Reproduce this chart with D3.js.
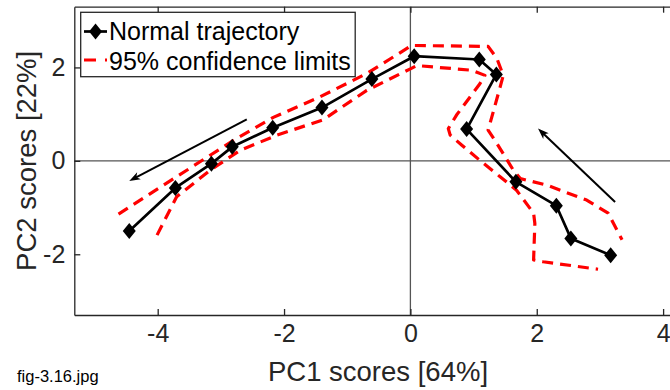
<!DOCTYPE html>
<html>
<head>
<meta charset="utf-8">
<script src="https://cdn.jsdelivr.net/npm/d3@7"></script>
<style>
  html, body { margin: 0; padding: 0; background: #fff; }
  svg { display: block; }
  text { font-family: "Liberation Sans", Arial, Helvetica, sans-serif; }
</style>
</head>
<body>
<svg id="chart" width="670" height="390"></svg>
<script>
// ---- data ----
const pc1 = [-4.45, -3.72, -3.15, -2.82, -2.18, -1.40, -0.61, 0.06, 1.09, 1.36, 0.89, 1.67, 2.31, 2.54, 3.17];
const pc2 = [-1.50, -0.58, -0.06, 0.30, 0.71, 1.14, 1.75, 2.24, 2.17, 1.85, 0.68, -0.45, -0.96, -1.66, -2.02];

const upperX = [-4.62, -3.70, -2.80, -2.17, -1.43, -0.69, 0.02, 1.23, 1.37, 1.47, 1.42, 1.26, 1.23, 1.37, 1.63, 1.74, 2.16, 2.79, 3.13, 3.35];
const upperY = [-1.14, -0.34, 0.44, 0.93, 1.37, 1.87, 2.47, 2.45, 2.19, 1.83, 1.58, 0.80, 0.66, 0.37, -0.20, -0.38, -0.52, -0.84, -1.12, -1.69];

const lowerX = [-4.01, -3.70, -3.17, -2.69, -2.11, -1.38, -0.69, 0.00, 0.10, 0.97, 1.18, 1.10, 0.73, 0.60, 0.63, 0.81, 1.10, 1.42, 1.68, 1.95, 1.97, 1.95, 2.10, 2.97];
const lowerY = [-1.59, -0.77, -0.20, 0.23, 0.55, 0.88, 1.51, 1.97, 2.04, 1.94, 1.83, 1.65, 0.98, 0.69, 0.55, 0.34, 0.01, -0.34, -0.63, -1.12, -1.34, -2.12, -2.16, -2.32];

// arrows: tail -> head (data units)
const arrowStartX = [-2.59, 3.24];
const arrowStartY = [0.89, -0.88];
const arrowEndX = [-4.45, 2.02];
const arrowEndY = [-0.43, 0.69];

const xTicks = [-4, -2, 0, 2, 4];
const yTicks = [-2, 0, 2];
const xDomain = [-5.32, 5.32];
const yDomain = [-3.3, 3.3];

const xLabel = "PC1 scores [64%]";
const yLabel = "PC2 scores [22%]";
const legendLabels = ["Normal trajectory", "95% confidence limits"];
const caption = "fig-3.16.jpg";

// ---- layout ----
const svg = d3.select("#chart");
const mLeft = 74.3, mTop = 6.7, mBottom = 315, mRight = 746.5;
const axisColor = "#262626";

const x = d3.scaleLinear().domain(xDomain).range([mLeft, mRight]);
const y = d3.scaleLinear().domain(yDomain).range([mBottom, mTop]);

svg.append("defs").append("clipPath").attr("id", "clip")
  .append("rect").attr("x", mLeft).attr("y", mTop).attr("width", mRight - mLeft).attr("height", mBottom - mTop);

// crosshair lines
const cross = svg.append("g").attr("clip-path", "url(#clip)");
cross.append("line").attr("x1", x(0)).attr("x2", x(0)).attr("y1", mTop).attr("y2", mBottom)
  .attr("stroke", "#555").attr("stroke-width", 1.3);
cross.append("line").attr("x1", mLeft).attr("x2", mRight).attr("y1", y(0)).attr("y2", y(0))
  .attr("stroke", "#555").attr("stroke-width", 1.3);

// axes
const fontTick = 25;
const fmt = d => String(d);
const gx = svg.append("g").attr("transform", `translate(0,${mBottom})`)
  .call(d3.axisBottom(x).tickValues(xTicks).tickSizeInner(-6).tickSizeOuter(0).tickPadding(9).tickFormat(fmt));
const gxTop = svg.append("g").attr("transform", `translate(0,${mTop})`)
  .call(d3.axisTop(x).tickValues(xTicks).tickSizeInner(-6).tickSizeOuter(0).tickFormat(""));
const gy = svg.append("g").attr("transform", `translate(${mLeft},0)`)
  .call(d3.axisLeft(y).tickValues(yTicks).tickSizeInner(-6).tickSizeOuter(0).tickPadding(9).tickFormat(fmt));

[gx, gxTop, gy].forEach(g => {
  g.select(".domain").attr("stroke", axisColor).attr("stroke-width", 1.3);
  g.selectAll(".tick line").attr("stroke", axisColor).attr("stroke-width", 1.3);
  g.selectAll(".tick text").attr("fill", axisColor).style("font-size", fontTick + "px")
    .style("font-family", '"Liberation Sans", Arial, Helvetica, sans-serif');
});

// axis labels
svg.append("text").attr("x", 378).attr("y", 381)
  .attr("text-anchor", "middle").attr("fill", axisColor).style("font-size", "27.5px").text(xLabel);
svg.append("text").attr("transform", `translate(36,${y(0)}) rotate(-90)`)
  .attr("text-anchor", "middle").attr("fill", axisColor).style("font-size", "27.5px").text(yLabel);

// caption
svg.append("text").attr("x", 17).attr("y", 382).attr("fill", "#000").style("font-size", "16.5px").text(caption);

const plot = svg.append("g").attr("clip-path", "url(#clip)");

// confidence limits
const line = d3.line().x(d => x(d[0])).y(d => y(d[1]));
const upper = upperX.map((v, i) => [v, upperY[i]]);
const lower = lowerX.map((v, i) => [v, lowerY[i]]);
[upper, lower].forEach(pts => {
  plot.append("path").attr("d", line(pts)).attr("fill", "none").attr("stroke", "#ff0000")
    .attr("stroke-width", 3.2).attr("stroke-dasharray", "11,7").attr("stroke-linejoin", "round");
});

// trajectory
const traj = pc1.map((v, i) => [v, pc2[i]]);
plot.append("path").attr("d", line(traj)).attr("fill", "none").attr("stroke", "#000")
  .attr("stroke-width", 2.7).attr("stroke-linejoin", "round");
const diamond = "M0,-8 L6.5,0 L0,8 L-6.5,0 Z";
plot.selectAll(".mk").data(traj).join("path").attr("class", "mk")
  .attr("transform", d => `translate(${x(d[0])},${y(d[1])})`)
  .attr("d", diamond).attr("fill", "#000");

// arrows
arrowStartX.forEach((_, i) => {
  const x1 = x(arrowStartX[i]), y1 = y(arrowStartY[i]);
  const x2 = x(arrowEndX[i]), y2 = y(arrowEndY[i]);
  const ang = Math.atan2(y2 - y1, x2 - x1) * 180 / Math.PI;
  const len = Math.hypot(x2 - x1, y2 - y1);
  const g = plot.append("g").attr("transform", `translate(${x1},${y1}) rotate(${ang})`);
  g.append("line").attr("x1", 0).attr("y1", 0).attr("x2", len - 5).attr("y2", 0)
    .attr("stroke", "#000").attr("stroke-width", 2);
  g.append("path").attr("d", `M${len},0 L${len - 11},-4 L${len - 8},0 L${len - 11},4 Z`).attr("fill", "#000");
});

// legend
const lg = svg.append("g");
lg.append("rect").attr("x", 80.7).attr("y", 12.3).attr("width", 274.5).attr("height", 64.4)
  .attr("fill", "#fff").attr("stroke", axisColor).attr("stroke-width", 1.3);
lg.append("line").attr("x1", 84).attr("x2", 107).attr("y1", 31.5).attr("y2", 31.5)
  .attr("stroke", "#000").attr("stroke-width", 2.7);
lg.append("path").attr("transform", "translate(95.5,31.5)").attr("d", diamond).attr("fill", "#000");
lg.append("line").attr("x1", 84).attr("x2", 107).attr("y1", 60).attr("y2", 60)
  .attr("stroke", "#ff0000").attr("stroke-width", 3.2).attr("stroke-dasharray", "12,9");
lg.append("text").attr("x", 109).attr("y", 39.5).attr("fill", "#000").style("font-size", "25px").text(legendLabels[0]);
lg.append("text").attr("x", 109).attr("y", 69.5).attr("fill", "#000").style("font-size", "25px").text(legendLabels[1]);
</script>
</body>
</html>
